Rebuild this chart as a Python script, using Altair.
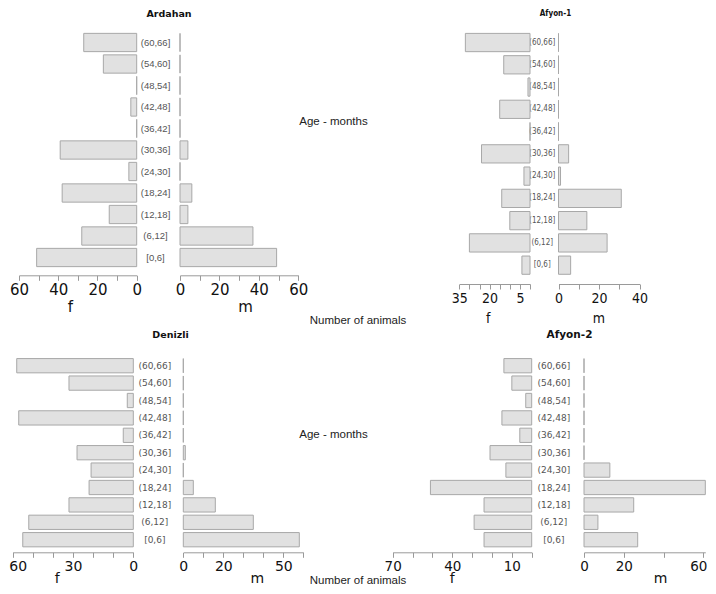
import altair as alt
import pandas as pd

# ---------------- data ----------------
ages = ["[0,6]", "(6,12]", "(12,18]", "(18,24]", "(24,30]", "(30,36]",
        "(36,42]", "(42,48]", "(48,54]", "(54,60]", "(60,66]"]

ardahan_f = [51, 28, 14, 38, 4, 39, 0, 3, 0, 17, 27]
ardahan_m = [49, 37, 4, 6, 0, 4, 0, 0, 0, 0, 0]
afyon1_f = [4, 30, 10, 14, 3, 24, 0, 15, 1, 13, 32]
afyon1_m = [6, 24, 14, 31, 1, 5, 0, 0, 0, 0, 0]
denizli_f = [55, 52, 32, 22, 21, 28, 5, 57, 3, 32, 58]
denizli_m = [58, 35, 16, 5, 0, 1, 0, 0, 0, 0, 0]
afyon2_f = [24, 29, 24, 51, 13, 21, 6, 15, 3, 10, 14]
afyon2_m = [27, 7, 25, 61, 13, 0, 0, 0, 0, 0, 0]

# tick marks and the tick labels that are printed
ticks_ardahan_f = [0, 10, 20, 30, 40, 50, 60]
labels_ardahan_f = [60, 40, 20, 0]
ticks_ardahan_m = [0, 10, 20, 30, 40, 50, 60]
labels_ardahan_m = [0, 20, 40, 60]
ticks_afyon1_f = [0, 5, 10, 15, 20, 25, 30, 35]
labels_afyon1_f = [35, 20, 5]
ticks_afyon1_m = [0, 10, 20, 30, 40]
labels_afyon1_m = [0, 20, 40]
ticks_denizli_f = [0, 10, 20, 30, 40, 50, 60]
labels_denizli_f = [60, 30, 0]
ticks_denizli_m = [0, 10, 20, 30, 40, 50, 60]
labels_denizli_m = [0, 20, 50]
ticks_afyon2_f = [0, 10, 20, 30, 40, 50, 60, 70]
labels_afyon2_f = [70, 40, 10]
ticks_afyon2_m = [0, 20, 40, 60]
labels_afyon2_m = [0, 20, 60]

panel_titles = ["Ardahan", "Afyon-1", "Denizli", "Afyon-2"]
age_title = "Age - months"
count_title = "Number of animals"

# ---------------- style / layout ----------------
W, H = 700, 578
BAR_FILL = "#e1e1e1"
BAR_STROKE = "#a8a8a8"
AX = "#9a9a9a"
WIDE = "DejaVu Sans"
NARROW = "Liberation Sans Narrow, DejaVu Sans Condensed, Liberation Sans, sans-serif"
PLAIN = "Liberation Sans, Arial, sans-serif"
age_order = ages[::-1]


def label_expr(shown):
    return ("indexof([" + ",".join(str(v) for v in shown) +
            "], datum.value) >= 0 ? datum.label : ''")


def half(values, x_dom, x_range, y_range, pad, ticks, shown, axis_y, title,
         title_x, title_dy, tick_font, tick_size, title_font, title_size, y_axis,
         **extra):
    df = pd.DataFrame({"age": ages, "count": values})
    return alt.Chart(df).mark_bar(
        fill=BAR_FILL, stroke=BAR_STROKE, strokeWidth=1
    ).encode(
        x=alt.X(
            "count:Q", stack=None,
            scale=alt.Scale(domain=x_dom, range=x_range, nice=False, zero=True),
            axis=alt.Axis(
                orient="bottom", offset=axis_y - H, values=ticks,
                labelExpr=label_expr(shown), labelFlush=False, labelOverlap=False,
                grid=False, domainColor=AX, tickColor=AX, tickSize=5, labelPadding=2,
                labelFont=tick_font, labelFontSize=tick_size, labelColor="#111",
                title=title, titleX=title_x, titleY=title_dy, titleFont=title_font,
                titleFontSize=title_size, titleFontWeight="normal", titleAlign="center",
                titleBaseline="alphabetic", titleColor="#111", **extra,
            ),
        ),
        y=alt.Y(
            "age:N", sort=age_order,
            scale=alt.Scale(domain=age_order, range=y_range,
                            paddingInner=pad, paddingOuter=pad / 2),
            axis=y_axis,
        ),
    )


def text_axis(title, x, y):
    return alt.Axis(
        orient="left", labels=False, ticks=False, domain=False, grid=False,
        title=title, titleAngle=0, titleX=x, titleY=y, titleAlign="center",
        titleBaseline="middle", titleFont=PLAIN, titleFontSize=11.5,
        titleFontWeight="normal", titleColor="#222",
    )


def label_axis(title, label_x, title_x, title_y, lfont, lsize, tfont, tsize):
    return alt.Axis(
        orient="left", offset=-label_x, ticks=False, tickSize=0, domain=False,
        grid=False, labelAlign="center", labelPadding=0, labelOverlap=False,
        labelFont=lfont, labelFontSize=lsize, labelColor="#555",
        title=title, titleAngle=0, titleX=title_x - label_x, titleY=title_y,
        titleAlign="center", titleBaseline="middle", titleFont=tfont,
        titleFontSize=tsize, titleFontWeight="bold", titleColor="#111",
    )


layers = []

# Ardahan
yr = [23.75, 260.25]
layers.append(half(ardahan_f, [0, 60], [128.7, 11], yr, 0.15, ticks_ardahan_f,
                   labels_ardahan_f, 267.3, "f", 62, 36.4, WIDE, 15, WIDE, 15,
                   text_axis(age_title, 325, 113)))
layers.append(half(ardahan_m, [0, 60], [172, 290.3], yr, 0.15, ticks_ardahan_m,
                   labels_ardahan_m, 267.3, "m", 237, 36.4, WIDE, 15, WIDE, 15,
                   label_axis(panel_titles[0], 147, 160.5, 5, PLAIN, 9.5, WIDE, 9.5)))

# Afyon-1
yr = [23.4, 268.3]
layers.append(half(afyon1_f, [0, 35], [522, 451.3], yr, 0.18, ticks_afyon1_f,
                   labels_afyon1_f, 276, "f", 479.7, 38.7, NARROW, 14, NARROW, 14,
                   text_axis(count_title, 349.5, 312.5)))
layers.append(half(afyon1_m, [0, 40], [550.5, 631.5], yr, 0.18, ticks_afyon1_m,
                   labels_afyon1_m, 276, "m", 590.3, 38.7, NARROW, 14, NARROW, 14,
                   label_axis(panel_titles[1], 533.7, 547, 5, NARROW, 8, NARROW, 8)))

# Denizli
yr = [349, 540.4]
layers.append(half(denizli_f, [0, 60], [125.3, 4.7], yr, 0.18, ticks_denizli_f,
                   labels_denizli_f, 544.3, "f", 48.7, 30, WIDE, 14, WIDE, 14,
                   text_axis(age_title, 325, 426),
                   labelOffset={"condition": {"test": "datum.value === 60", "value": 5},
                                "value": 0}))
layers.append(half(denizli_m, [0, 60], [175.3, 295.3], yr, 0.18, ticks_denizli_m,
                   labels_denizli_m, 544.3, "m", 248.7, 30, WIDE, 14, WIDE, 14,
                   label_axis(panel_titles[2], 146.3, 162, 326, WIDE, 9, WIDE, 9.5)))

# Afyon-2
layers.append(half(afyon2_f, [0, 70], [523.7, 384.7], yr, 0.18, ticks_afyon2_f,
                   labels_afyon2_f, 544.3, "f", 443.7, 30, WIDE, 13.5, WIDE, 14,
                   text_axis(count_title, 349.5, 572)))
layers.append(half(afyon2_m, [0, 61], [576, 697.3], yr, 0.18, ticks_afyon2_m,
                   labels_afyon2_m, 544.3, "m", 652, 30, WIDE, 13.5, WIDE, 14,
                   label_axis(panel_titles[3], 545.3, 561, 326, WIDE, 9, WIDE, 10.5),
                   labelOffset={"condition": {"test": "datum.value === 60", "value": -5},
                                "value": 0}))

chart = alt.layer(*layers).resolve_scale(
    x="independent", y="independent"
).resolve_axis(
    x="independent", y="independent"
).properties(
    width=W, height=H, padding=0,
    autosize=alt.AutoSizeParams(type="none"),
).configure_view(stroke=None)

chart.save("out.html", embed_options={"renderer": "svg", "actions": False})
